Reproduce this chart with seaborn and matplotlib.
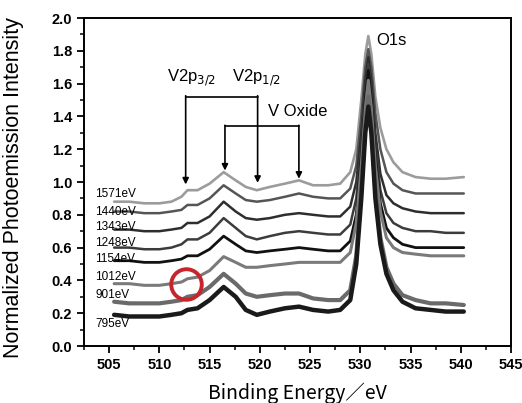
import numpy as np
import pandas as pd
import matplotlib
matplotlib.use("Agg")
import matplotlib.pyplot as plt
from matplotlib.ticker import MultipleLocator
import seaborn as sns

# ---- data ----
energy = [505.5, 507, 508.5, 510, 511.2, 512.2, 512.8, 513.8, 515, 516.4, 517.6, 518.6,
          519.7, 521, 522.5, 523.9, 525.3, 526.8, 528, 529, 529.6, 530.1, 530.5, 530.8,
          531.1, 531.5, 532, 532.6, 533.3, 534.2, 535.5, 537, 538.5, 540.3]

labels = ["1571eV", "1440eV", "1343eV", "1248eV", "1154eV", "1012eV", "901eV", "795eV"]

s1571 = [0.88, 0.88, 0.87, 0.87, 0.88, 0.91, 0.95, 0.95, 0.99, 1.06, 1.01, 0.97, 0.95, 0.97, 0.99, 1.01, 0.98,
         0.98, 0.99, 1.06, 1.20, 1.50, 1.78, 1.89, 1.78, 1.52, 1.33, 1.20, 1.12, 1.06, 1.03, 1.02, 1.02, 1.03]
s1440 = [0.82, 0.82, 0.81, 0.81, 0.82, 0.83, 0.86, 0.86, 0.90, 0.98, 0.93, 0.89, 0.88, 0.89, 0.91, 0.93, 0.91,
         0.90, 0.90, 0.96, 1.10, 1.40, 1.70, 1.81, 1.70, 1.42, 1.20, 1.06, 0.99, 0.95, 0.93, 0.93, 0.93, 0.93]
s1343 = [0.71, 0.71, 0.70, 0.70, 0.71, 0.72, 0.75, 0.75, 0.79, 0.88, 0.82, 0.78, 0.77, 0.78, 0.80, 0.81, 0.80,
         0.79, 0.79, 0.85, 1.00, 1.30, 1.62, 1.76, 1.62, 1.30, 1.05, 0.92, 0.87, 0.84, 0.82, 0.81, 0.81, 0.81]
s1248 = [0.60, 0.60, 0.59, 0.59, 0.60, 0.62, 0.65, 0.65, 0.69, 0.78, 0.72, 0.67, 0.65, 0.67, 0.69, 0.70, 0.69,
         0.68, 0.68, 0.74, 0.90, 1.22, 1.55, 1.72, 1.55, 1.22, 0.95, 0.81, 0.75, 0.72, 0.70, 0.70, 0.69, 0.69]
s1154 = [0.52, 0.52, 0.51, 0.51, 0.52, 0.53, 0.55, 0.55, 0.59, 0.67, 0.62, 0.58, 0.57, 0.58, 0.59, 0.60, 0.59,
         0.58, 0.58, 0.64, 0.80, 1.15, 1.50, 1.68, 1.50, 1.15, 0.87, 0.72, 0.66, 0.62, 0.60, 0.60, 0.60, 0.60]
s1012 = [0.38, 0.38, 0.37, 0.37, 0.38, 0.39, 0.41, 0.42, 0.46, 0.545, 0.51, 0.48, 0.48, 0.49, 0.50, 0.51, 0.51,
         0.51, 0.51, 0.57, 0.75, 1.10, 1.45, 1.62, 1.45, 1.10, 0.82, 0.66, 0.60, 0.57, 0.56, 0.55, 0.55, 0.55]
s901 = [0.27, 0.26, 0.26, 0.26, 0.27, 0.28, 0.30, 0.31, 0.36, 0.44, 0.38, 0.32, 0.30, 0.31, 0.32, 0.32, 0.29,
        0.28, 0.28, 0.34, 0.55, 0.95, 1.35, 1.52, 1.35, 0.95, 0.66, 0.48, 0.38, 0.31, 0.28, 0.26, 0.26, 0.25]
s795 = [0.19, 0.18, 0.18, 0.18, 0.19, 0.20, 0.22, 0.23, 0.28, 0.36, 0.30, 0.22, 0.19, 0.21, 0.23, 0.24, 0.22,
        0.21, 0.22, 0.28, 0.50, 0.90, 1.30, 1.46, 1.30, 0.90, 0.62, 0.44, 0.34, 0.27, 0.23, 0.22, 0.21, 0.21]

series = [s1571, s1440, s1343, s1248, s1154, s1012, s901, s795]
label_y = [0.925, 0.82, 0.725, 0.63, 0.53, 0.42, 0.31, 0.135]

colors = ["#9c9c9c", "#555555", "#2e2e2e", "#3c3c3c", "#111111", "#7a7a7a", "#6a6a6a", "#1a1a1a"]
widths = [1.9, 1.8, 1.8, 1.8, 2.0, 2.2, 3.0, 3.2]

df = pd.concat([pd.DataFrame({"E": energy, "I": s, "label": l}) for s, l in zip(series, labels)],
               ignore_index=True)

sns.set_theme(style="ticks")
plt.rcParams["font.family"] = ["Liberation Sans", "Noto Sans CJK JP", "DejaVu Sans"]
plt.rcParams["text.color"] = "black"
plt.rcParams["axes.labelcolor"] = "black"
plt.rcParams["xtick.color"] = "black"
plt.rcParams["ytick.color"] = "black"

fig = plt.figure(figsize=(5.22, 4.03), dpi=100)
ax = fig.add_axes([84 / 522, 57 / 403, 427 / 522, 328 / 403])

for l, c, w in zip(labels, colors, widths):
    sns.lineplot(data=df[df["label"] == l], x="E", y="I", color=c, linewidth=w,
                 ax=ax, sort=False, estimator=None, legend=False)

for l, yv in zip(labels, label_y):
    ax.text(503.6, yv, l, fontsize=8.5, ha="left", va="center", color="black")

# annotations
arrow_kw = dict(arrowstyle="-|>", color="black", lw=1.2, mutation_scale=9, shrinkA=0, shrinkB=0)
ax.plot([512.62, 519.78], [1.52, 1.52], color="black", lw=1.2)
ax.annotate("", xy=(512.62, 0.985), xytext=(512.62, 1.526), arrowprops=arrow_kw)
ax.annotate("", xy=(519.78, 0.995), xytext=(519.78, 1.526), arrowprops=arrow_kw)
ax.plot([516.53, 523.89], [1.34, 1.34], color="black", lw=1.2)
ax.annotate("", xy=(516.53, 1.07), xytext=(516.53, 1.346), arrowprops=arrow_kw)
ax.annotate("", xy=(523.89, 1.02), xytext=(523.89, 1.346), arrowprops=arrow_kw)

ax.text(510.8, 1.635, r"V2p$_{3/2}$", fontsize=12, ha="left", va="center")
ax.text(517.2, 1.635, r"V2p$_{1/2}$", fontsize=12, ha="left", va="center")
ax.text(520.8, 1.43, "V Oxide", fontsize=12, ha="left", va="center")
ax.text(531.6, 1.86, "O1s", fontsize=12, ha="left", va="center")

ax.plot([512.7], [0.381], marker="o", markersize=22, markerfacecolor="none",
        markeredgecolor="#c8242b", markeredgewidth=2.8)

ax.set_xlim(502.5, 545)
ax.set_ylim(0, 2.0)
ax.xaxis.set_minor_locator(MultipleLocator(2.5))
ax.yaxis.set_major_locator(MultipleLocator(0.2))
ax.yaxis.set_minor_locator(MultipleLocator(0.1))
ax.set_xticks(np.arange(505, 546, 5))
ax.set_xticklabels([str(v) for v in range(505, 546, 5)])
ax.set_yticks(np.round(np.arange(0, 2.01, 0.2), 1))
ax.set_yticklabels([f"{v:.1f}" for v in np.arange(0, 2.01, 0.2)])
ax.tick_params(which="major", direction="out", length=5, width=1.3, labelsize=10.5, color="black",
               labelcolor="black", top=False, right=False)
ax.tick_params(which="minor", direction="out", length=3, width=1.1, top=False, right=False)
for lab in ax.get_xticklabels() + ax.get_yticklabels():
    lab.set_fontweight("bold")
for sp in ax.spines.values():
    sp.set_visible(True)
    sp.set_linewidth(1.4)
    sp.set_color("black")

ax.set_xlabel("Binding Energy／eV", fontsize=14, family=["Noto Sans CJK JP"], labelpad=8)
ax.set_ylabel("Normalized Photoemission Intensity", fontsize=15.5)
ax.yaxis.set_label_coords(-0.14, 0.482)

fig.savefig("out.png", dpi=100)
